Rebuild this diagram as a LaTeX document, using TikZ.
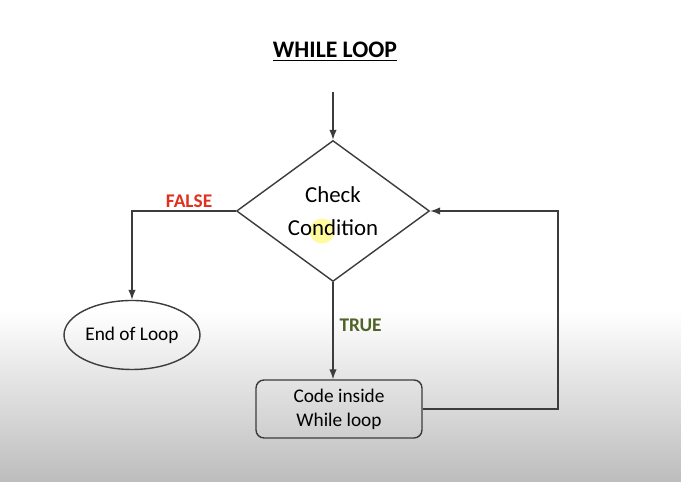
\documentclass[tikz,border=0pt]{standalone}
\usepackage{fontspec}
\setmainfont{Carlito}
\usetikzlibrary{shapes.geometric, arrows.meta}
\definecolor{linegray}{HTML}{3C3C3C}
\definecolor{falsered}{HTML}{E2301F}
\definecolor{truegreen}{HTML}{4F6228}
\tikzset{
  decision/.style = {diamond, draw = linegray, line width = 0.8pt, shape aspect = 1.37, minimum width = 3.86cm, minimum height = 2.82cm, inner sep = 0pt, align = center, font = \fontsize{13}{18.8}\selectfont},
  terminal/.style = {ellipse, draw = linegray, line width = 0.8pt, minimum width = 2.72cm, minimum height = 1.38cm, inner sep = 0pt, font = \fontsize{11}{13}\selectfont},
  process/.style = {rectangle, rounded corners = 0.16cm, draw = linegray, line width = 0.8pt, minimum width = 3.32cm, minimum height = 1.16cm, inner sep = 0pt, align = center, font = \fontsize{11}{13.7}\selectfont},
  flow/.style = {draw = linegray, line width = 0.8pt, ->},
  branch/.style = {font = \fontsize{11}{13}\selectfont\bfseries}
}
\begin{document}
\begin{tikzpicture}[x = 0.02cm, y = -0.02cm, >= {Latex[length = 2mm, width = 1.5mm]}]
\fill [white] (0,0) rectangle (681,310);
\shade [top color = white, bottom color = black!26] (0,310) rectangle (681,482);
\useasboundingbox (0,0) rectangle (681,482);
\node (title) at (335,52) {\fontsize{13.5}{16}\selectfont\bfseries\underline{WHILE LOOP}};
\coordinate (start) at (333,92);
\fill [yellow!55, opacity = 0.7] (322,231) circle (0.25cm);
\node [decision] (cond) at (333,211) {Check\\Condition};
\node [terminal] (end) at (132,335) {End of Loop};
\node [process] (body) at (339,409) {Code inside\\While loop};
\coordinate (back) at (558,300);
\draw [flow] (start) -- (cond.north);
\draw [flow] (cond.west) -| (end.north) node [pos = 0.225, above = -2pt, branch, falsered] {FALSE};
\draw [flow] (cond.south) -- (cond.south |- body.north) node [midway, right, yshift = 3pt, branch, truegreen] {TRUE};
\draw [flow] (body.east) -| (back) |- (cond.east);
\end{tikzpicture}
\end{document}
